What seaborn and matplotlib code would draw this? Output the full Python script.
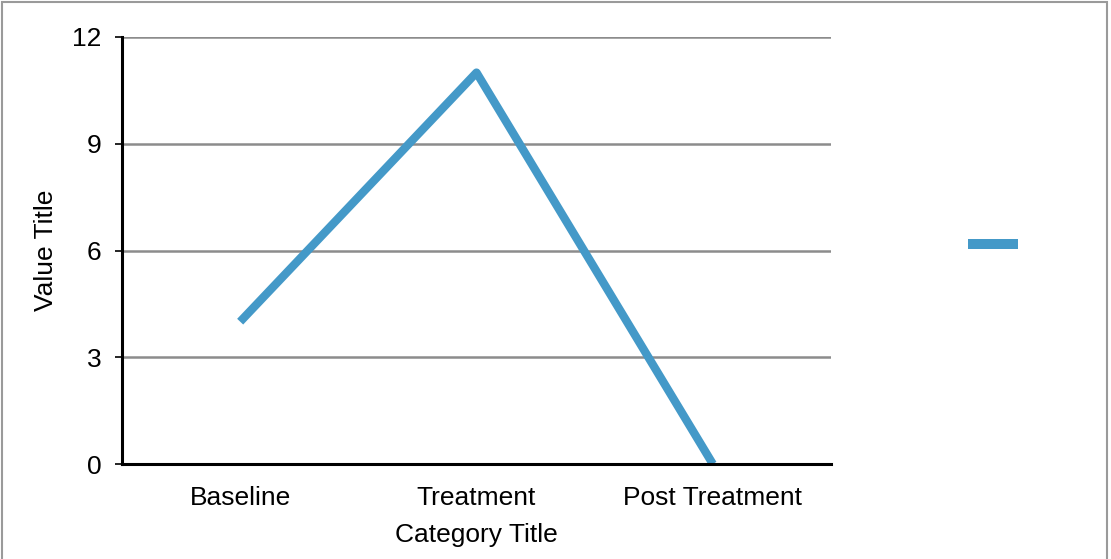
import pandas as pd
import matplotlib
matplotlib.use("Agg")
import matplotlib.pyplot as plt
import seaborn as sns
from matplotlib.lines import Line2D
from matplotlib.patches import Rectangle

# data
categories = ["Baseline", "Treatment", "Post Treatment"]
values = [4, 11, 0]
y_ticks = [0, 3, 6, 9, 12]

df = pd.DataFrame({"Category": categories, "Value": values})

sns.set_style("white")
plt.rcParams["font.family"] = ["Liberation Sans", "DejaVu Sans"]

line_color = "#4499c8"

fig = plt.figure(figsize=(11.11, 5.59), dpi=100)
ax = fig.add_axes([122 / 1111, 1 - 464 / 559, (831 - 122) / 1111, (464 - 37) / 559])

sns.lineplot(data=df, x="Category", y="Value", ax=ax, color=line_color,
             linewidth=6.0, solid_capstyle="butt", zorder=2)

# axes styling
ax.set_xlim(-0.5, 2.5)
ax.set_ylim(0, 12)
ax.set_yticks(y_ticks)
ax.set_yticklabels([str(v) for v in y_ticks])
ax.yaxis.grid(True, color="#8c8c8c", linewidth=1.8)
ax.set_axisbelow(True)
for side in ["top", "right"]:
    ax.spines[side].set_visible(False)
for side in ["left", "bottom"]:
    ax.spines[side].set_color("black")
    ax.spines[side].set_linewidth(2.2)
    ax.spines[side].set_zorder(3)
ax.tick_params(axis="y", length=5, width=1.2, color="black", pad=10, labelsize=19,
               labelcolor="black", left=True)
ax.tick_params(axis="x", length=0, pad=16, labelsize=19, labelcolor="black")
ax.set_xlabel("Category Title", fontsize=19, labelpad=9, color="black")
ax.set_ylabel("Value Title", fontsize=19, color="black")
ax.yaxis.set_label_coords(-(122 - 58) / 709, 0.5)

# legend: a lone series swatch without a label
handle = Line2D([], [], color=line_color, linewidth=7.2, solid_capstyle="butt")
fig.legend([handle], [""], loc="center left", bbox_to_anchor=(968 / 1111, 1 - 246 / 559),
           bbox_transform=fig.transFigure, frameon=False, handlelength=1.9,
           handletextpad=0, borderpad=0, borderaxespad=0, fontsize=19)

# outer chart border
fig.patches.append(Rectangle((2 / 1111, -0.05), 1105 / 1111, 1.05 - 2 / 559,
                             transform=fig.transFigure, fill=False,
                             edgecolor="#9a9a9a", linewidth=1.5))

fig.savefig("out.png", dpi=100)
